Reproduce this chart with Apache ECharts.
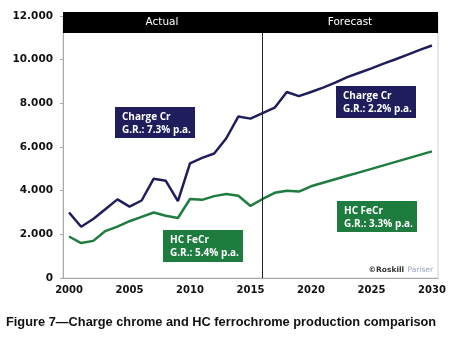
<!DOCTYPE html>
<html>
  <head>
    <meta charset="utf-8">
    <title>Charge chrome vs HC FeCr</title>
    <style>
      body { margin: 0; background: #fff; }
    </style>
  </head>
  <body>
    <div id="main" style="width: 457px;height:345px;"></div>
  </body>
  <script type="text/javascript" src="https://cdn.jsdelivr.net/npm/echarts@6/dist/echarts.min.js"></script>
  <script type="text/javascript">
      // years 2000 - 2030
      var years = ['2000','2001','2002','2003','2004','2005','2006','2007','2008','2009','2010',
                   '2011','2012','2013','2014','2015','2016','2017','2018','2019','2020',
                   '2021','2022','2023','2024','2025','2026','2027','2028','2029','2030'];

      // production, '000 t
      var chargeCr = [3000, 2350, 2700, 3150, 3600, 3270, 3550, 4550, 4450, 3520, 5250,
                      5500, 5700, 6400, 7400, 7300, 7550, 7800, 8520, 8330, 8520,
                      8720, 8950, 9200, 9400, 9600, 9820, 10020, 10230, 10450, 10650];
      var hcFeCr = [1900, 1600, 1700, 2150, 2350, 2600, 2800, 3000, 2850, 2750, 3620,
                    3580, 3750, 3850, 3770, 3300, 3620, 3900, 4000, 3960, 4200,
                    4360, 4520, 4680, 4840, 5000, 5160, 5320, 5480, 5640, 5800];

      var yTicks = [0, 2000, 4000, 6000, 8000, 10000, 12000];
      var splitYear = '2016';

      var navy = '#1f1d5c';
      var green = '#1e7c3f';

      var myChart = echarts.init(document.getElementById('main'));

      function fmt(v) {
          if (v === 0) return '0';
          return Math.floor(v / 1000) + '.' + ('00' + (v % 1000)).slice(-3);
      }

      // label box helper
      function box(x, y, w, h, color, lines) {
          return {
              type: 'group', left: x, top: y, z: 12,
              children: [
                  { type: 'rect', shape: { x: 0, y: 0, width: w, height: h }, style: { fill: color } },
                  { type: 'text', x: 7, y: 4,
                    style: { text: lines.join('\n'), fill: '#fff', font: 'bold 10px "Open Sans"', lineHeight: 12.5 } }
              ]
          };
      }

      var option = {
          animation: false,
          grid: { left: 63, right: 19, top: 16, bottom: 67, containLabel: false, outerBoundsMode: 'none',
                  show: true, borderColor: '#d0d0d0', borderWidth: 1 },
          xAxis: {
              type: 'category',
              data: years,
              boundaryGap: true,
              axisLine: { lineStyle: { color: '#a8a8a8' } },
              axisTick: { interval: 0, length: 3, lineStyle: { color: '#a8a8a8' } },
              axisLabel: { interval: 4, color: '#111', fontFamily: 'DejaVu Sans', fontWeight: 'bold', fontSize: 10, margin: 7 },
              splitLine: { show: false }
          },
          yAxis: {
              type: 'value',
              min: yTicks[0], max: yTicks[yTicks.length - 1], interval: 2000,
              name: 'Production, in \u2019000 t',
              nameLocation: 'middle', nameGap: 51,
              nameTextStyle: { color: '#111', fontFamily: 'DejaVu Sans', fontWeight: 'bold', fontSize: 9.5 },
              axisLine: { show: true, lineStyle: { color: '#a8a8a8' } },
              axisTick: { show: true, length: 3, lineStyle: { color: '#a8a8a8' } },
              axisLabel: { formatter: fmt, color: '#111', fontFamily: 'DejaVu Sans', fontWeight: 'bold', fontSize: 10.5, margin: 10 },
              splitLine: { show: false }
          },
          series: [{
              name: 'Charge Cr',
              type: 'line',
              data: chargeCr,
              symbol: 'none',
              lineStyle: { color: navy, width: 2.5 },
              markLine: {
                  silent: true, symbol: 'none', label: { show: false },
                  lineStyle: { color: '#222', width: 1, type: 'solid' },
                  data: [{ xAxis: splitYear }]
              }
          }, {
              name: 'HC FeCr',
              type: 'line',
              data: hcFeCr,
              symbol: 'none',
              lineStyle: { color: green, width: 2.5 }
          }],
          graphic: [
              // header band
              { type: 'rect', shape: { x: 63, y: 12, width: 375, height: 21 }, style: { fill: '#000' }, z: 10 },
              { type: 'text', x: 162, y: 22.5, z: 11,
                style: { text: 'Actual', fill: '#fff', font: '10.5px "DejaVu Sans"', textAlign: 'center', textVerticalAlign: 'middle' } },
              { type: 'text', x: 350, y: 22.5, z: 11,
                style: { text: 'Forecast', fill: '#fff', font: '10.5px "DejaVu Sans"', textAlign: 'center', textVerticalAlign: 'middle' } },
              box(115, 107, 80, 31, navy, ['Charge Cr', 'G.R.: 7.3% p.a.']),
              box(336, 86, 80, 32, navy, ['Charge Cr', 'G.R.: 2.2% p.a.']),
              box(163, 230, 80, 32, green, ['HC FeCr', 'G.R.: 5.4% p.a.']),
              box(337, 201, 80, 31, green, ['HC FeCr', 'G.R.: 3.3% p.a.']),
              // watermark
              { type: 'text', x: 433, y: 270,
                style: { text: '{a|\u00a9Roskill} {b|Pariser}', textAlign: 'right', textVerticalAlign: 'middle',
                         rich: { a: { fill: '#333', font: 'bold 7.5px "DejaVu Sans"' }, b: { fill: '#9aa2bd', font: '7.5px "DejaVu Sans"' } } } },
              // caption
              { type: 'text', x: 6, y: 322,
                style: { text: 'Figure 7\u2014Charge chrome and HC ferrochrome production comparison',
                         fill: '#111', font: 'bold 12.8px "Liberation Sans"', textVerticalAlign: 'middle' } }
          ]
      };

      myChart.setOption(option);
  </script>
</html>
